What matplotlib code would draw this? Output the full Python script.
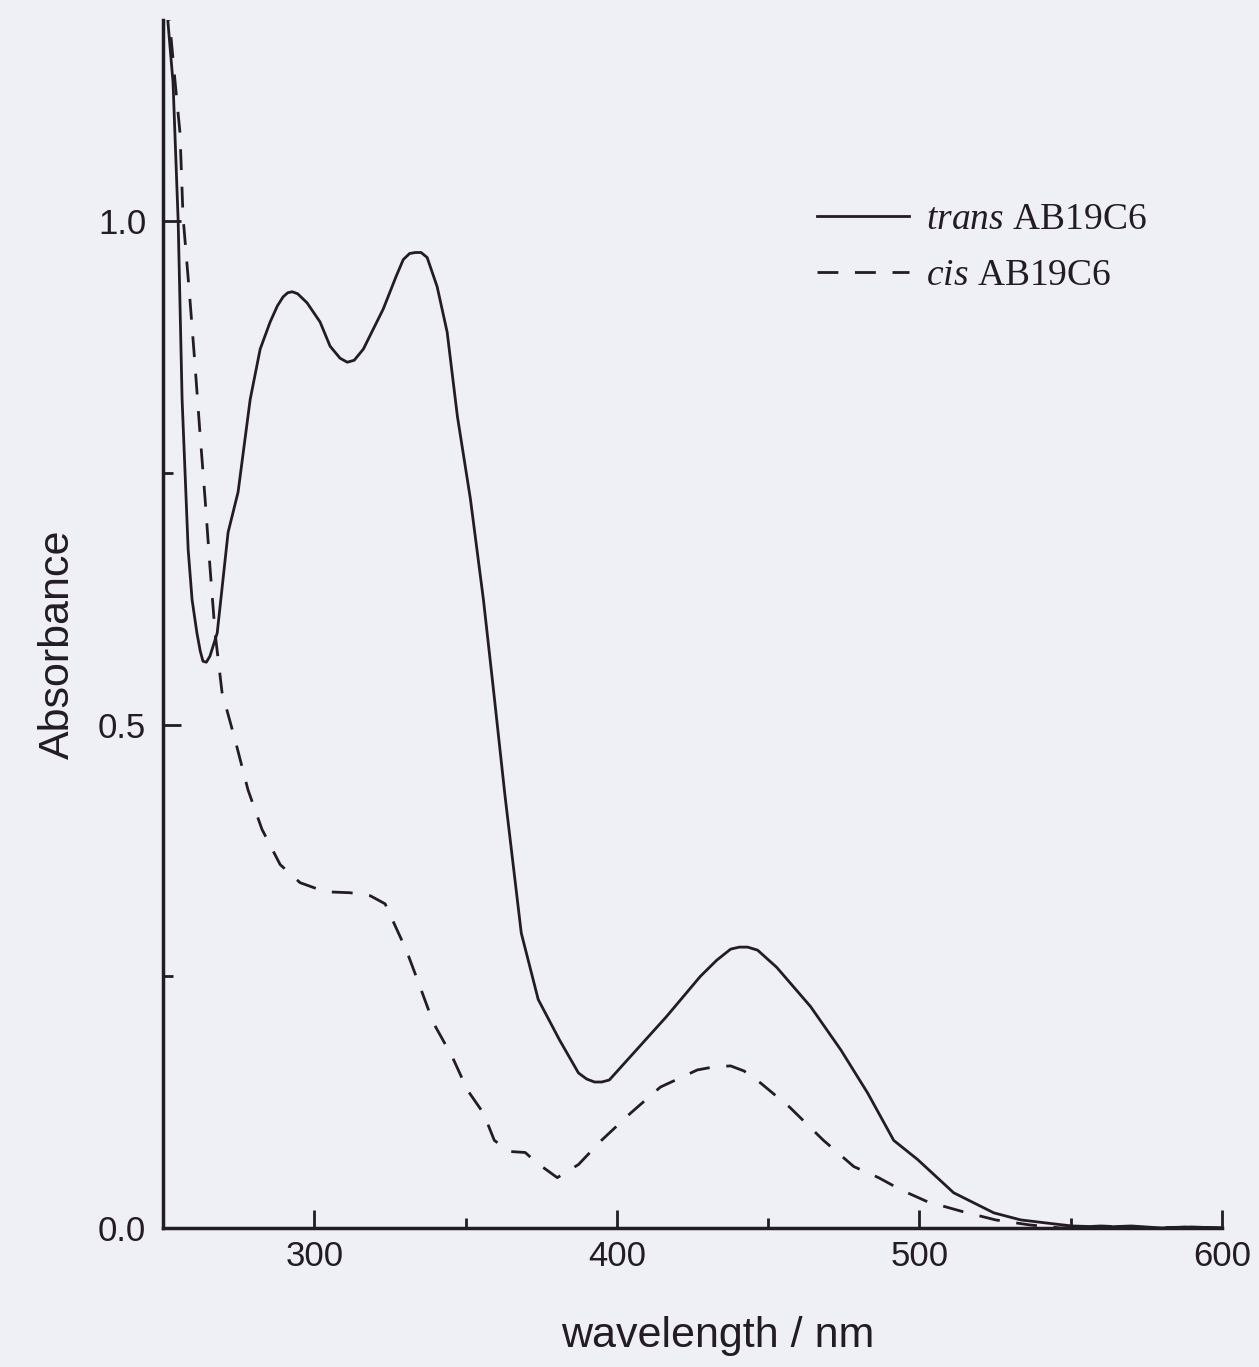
import numpy as np
import matplotlib
matplotlib.use('Agg')
from matplotlib import pyplot as plt
from matplotlib.ticker import MultipleLocator

plt.rcParams['font.family'] = ['Liberation Sans', 'DejaVu Sans']
plt.rcParams['mathtext.fontset'] = 'custom'
plt.rcParams['mathtext.it'] = 'Liberation Serif:italic'
plt.rcParams['mathtext.rm'] = 'Liberation Serif'

# spectra (wavelength in nm, absorbance)
trans_wl = [251, 253.3, 255.0, 256.3, 258.3, 259.6, 261.2, 262.3, 263.2, 264.3, 265.5,
            267.9, 271.5, 274.8, 278.8, 282.1, 285.4, 287.8, 289.7, 291.2, 292.7, 294.5,
            297.6, 301.9, 305.2, 308.5, 310.9, 313.2, 316.2, 322.8, 327.0, 329.4, 331.5,
            333.4, 335.3, 337.3, 340.6, 343.9, 347.3, 351.6, 355.9, 359.2, 363.0, 367.1,
            368.4, 374.0, 381.0, 387.3, 390.0, 392.6, 395.0, 397.5, 406.5, 416.4, 427.6,
            433.0, 437.6, 440.5, 443.2, 446.5, 452.8, 464.0, 474.0, 482.9, 491.5, 499.4,
            511.3, 524.6, 533.5, 541.8, 550.4, 561.3, 570, 580, 590, 600]
trans_abs = [1.22, 1.138, 1.000, 0.823, 0.674, 0.624, 0.591, 0.573, 0.563, 0.562, 0.568,
             0.591, 0.691, 0.731, 0.823, 0.873, 0.900, 0.916, 0.925, 0.929, 0.930, 0.928,
             0.919, 0.900, 0.876, 0.864, 0.860, 0.862, 0.873, 0.913, 0.945, 0.962, 0.968,
             0.969, 0.969, 0.964, 0.935, 0.890, 0.806, 0.724, 0.624, 0.535, 0.430, 0.326,
             0.293, 0.227, 0.187, 0.154, 0.148, 0.145, 0.145, 0.147, 0.177, 0.210, 0.250,
             0.266, 0.277, 0.279, 0.279, 0.276, 0.259, 0.220, 0.177, 0.134, 0.087, 0.068,
             0.035, 0.015, 0.008, 0.005, 0.002, 0.001, 0.002, 0.0, 0.001, 0.0]

cis_wl = [251.5, 254.0, 255.6, 256.6, 258.9, 260.6, 262.2, 263.9, 265.5, 267.2,
          269.5, 273.8, 278.1, 282.7, 288.7, 295.3, 303.6, 311.9, 318.5, 323.4,
          330.4, 334.4, 339.3, 345.6, 350.6, 355.9, 359.5, 364.5, 369.7, 373.4,
          380.3, 387.3, 394.9, 404.5, 414.4, 426.6, 432.0, 437.6, 442.0, 447.5, 457.1,
          468.3, 478.3, 486.5, 493.8, 502.7, 514.6, 525.2, 536.5, 546.7, 560, 575,
          590, 600]
cis_abs = [1.22, 1.138, 1.088, 1.005, 0.922, 0.856, 0.790, 0.724, 0.657, 0.591,
           0.532, 0.485, 0.435, 0.396, 0.361, 0.343, 0.334, 0.333, 0.330, 0.322,
           0.276, 0.244, 0.204, 0.170, 0.137, 0.114, 0.087, 0.076, 0.075, 0.065,
           0.050, 0.063, 0.087, 0.114, 0.140, 0.157, 0.160, 0.161, 0.156, 0.144, 0.120,
           0.087, 0.061, 0.050, 0.038, 0.026, 0.016, 0.008, 0.003, 0.0, 0.002, 0.0,
           0.001, 0.0]

ink = '#241c24'
bg = '#efeff6'

fig = plt.figure(figsize=(12.59, 13.67), dpi=100, facecolor=bg)
ax = fig.add_axes([0.1295, 0.1017, 0.8411, 0.8837], facecolor=bg)

ax.plot(trans_wl, trans_abs, color=ink, lw=2.0, label=r'$\mathit{trans}$ AB19C6')
ax.plot(cis_wl, cis_abs, color=ink, lw=2.0, linestyle=(0, (7.5, 6)),
        label=r'$\mathit{cis}$ AB19C6')

ax.set_xlim(250, 600)
ax.set_ylim(0, 1.2)

for s in ['top', 'right']:
    ax.spines[s].set_visible(False)
for s in ['left', 'bottom']:
    ax.spines[s].set_linewidth(2.5)
    ax.spines[s].set_color(ink)

ax.xaxis.set_minor_locator(MultipleLocator(50))
ax.yaxis.set_major_locator(MultipleLocator(0.5))
ax.yaxis.set_minor_locator(MultipleLocator(0.25))
ax.set_xticks([300, 400, 500, 600])
ax.yaxis.set_major_formatter(matplotlib.ticker.FormatStrFormatter('%.1f'))
ax.tick_params(which='major', direction='in', length=13, width=2, color=ink,
               labelsize=25, labelcolor=ink)
ax.tick_params(which='minor', direction='in', length=7, width=2, color=ink)
ax.tick_params(axis='x', pad=9)
ax.tick_params(axis='y', pad=12)

ax.set_xlabel('wavelength / nm', fontsize=31, color=ink)
ax.set_ylabel('Absorbance', fontsize=31, color=ink)
ax.xaxis.set_label_coords(0.524, -0.073)
ax.yaxis.set_label_coords(-0.080, 0.483)

ax.legend(loc='upper left', bbox_to_anchor=(0.618, 0.849), frameon=False,
          prop={'family': 'Liberation Serif', 'size': 27},
          handlelength=2.45, handletextpad=0.45, labelspacing=0.57,
          borderpad=0, borderaxespad=0, labelcolor=ink)

fig.savefig('out.png', dpi=100, facecolor=bg)
